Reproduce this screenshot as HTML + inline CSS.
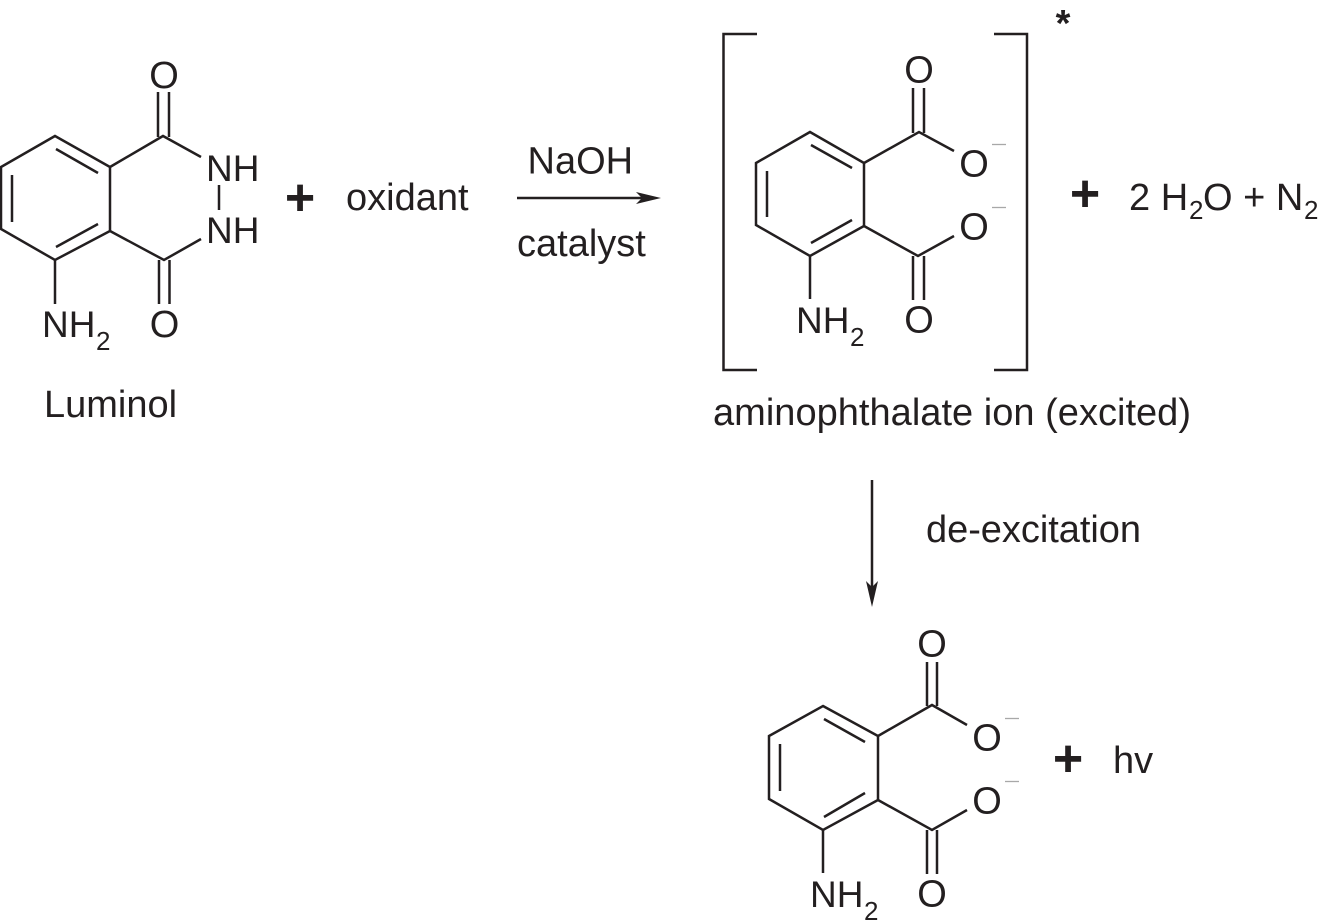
<!DOCTYPE html>
<html>
<head>
<meta charset="utf-8">
<style>
html,body{margin:0;padding:0;background:#fff;width:1322px;height:920px;overflow:hidden}
svg{display:block}
text{font-family:"Liberation Sans",Arial,sans-serif;fill:#231f20;font-size:38px}
.n{font-size:37px}
.s{font-size:26px}
.p{font-size:52px;font-weight:bold}
line,polyline,polygon.o{stroke:#231f20;stroke-width:2.5;fill:none}
.m{stroke:#a8a8a8;stroke-width:1.3}
</style>
</head>
<body>
<svg width="1322" height="920" viewBox="0 0 1322 920" xmlns="http://www.w3.org/2000/svg">
<!-- Luminol -->
<polygon class="o" points="55,136 110,167 110,231 55,260 1,229 1,167"/>
<line x1="56" y1="149" x2="98" y2="173"/><line x1="12" y1="175" x2="12" y2="222"/><line x1="56" y1="247" x2="98" y2="224"/>
<polyline points="110,167 163,136 201,157"/>
<line x1="158" y1="92" x2="158" y2="137"/><line x1="169" y1="92" x2="169" y2="137"/>
<polyline points="110,231 164,260 201,239"/>
<line x1="159" y1="260" x2="159" y2="304"/><line x1="169.500" y1="260" x2="169.500" y2="304"/>
<line x1="219" y1="185" x2="219" y2="210"/>
<line x1="55" y1="260" x2="55" y2="304"/>
<text x="164" y="88" text-anchor="middle">O</text>
<text x="164.500" y="337" text-anchor="middle">O</text>
<text x="206" y="181" class="n">NH</text>
<text x="206" y="243" class="n">NH</text>
<text x="42" y="337" class="n">NH</text><text x="96" y="350" class="s">2</text>
<text x="44" y="417">Luminol</text>
<text x="300" y="215" text-anchor="middle" class="p">+</text>
<text x="346" y="210">oxidant</text>
<!-- Reaction arrow -->
<line x1="517" y1="198" x2="650" y2="198"/>
<polygon points="661,198 636,192 642,198 636,204" fill="#231f20"/>
<text x="527.500" y="173.500">NaOH</text>
<text x="517" y="256">catalyst</text>
<!-- Excited ion -->
<polyline points="757,34 723.500,34 723.500,370 757,370"/>
<polyline points="994,34 1027,34 1027,370 994,370"/>
<text x="1063" y="36" text-anchor="middle" style="font-size:38px;font-weight:bold">*</text>
<polygon class="o" points="810,132 864,163 864,226 810,256 756,225 756,163"/>
<line x1="811" y1="145" x2="852" y2="168"/><line x1="767" y1="171" x2="767" y2="217"/><line x1="811" y1="243" x2="852" y2="220"/>
<polyline points="864,163 919,132 954,151"/>
<line x1="913" y1="88" x2="913" y2="133"/><line x1="924" y1="88" x2="924" y2="133"/>
<polyline points="864,226 918,256 954,236"/>
<line x1="913" y1="256" x2="913" y2="300"/><line x1="924" y1="256" x2="924" y2="300"/>
<line x1="810" y1="256" x2="810" y2="299"/>
<text x="919" y="82.500" text-anchor="middle">O</text>
<text x="974" y="176.500" text-anchor="middle">O</text>
<text x="974" y="239.500" text-anchor="middle">O</text>
<text x="919" y="332.500" text-anchor="middle">O</text>
<text x="796" y="333" class="n">NH</text><text x="850" y="346" class="s">2</text>
<line class="m" x1="992" y1="144.500" x2="1006" y2="144.500"/>
<line class="m" x1="992" y1="207.500" x2="1006" y2="207.500"/>
<text x="1085" y="211" text-anchor="middle" class="p">+</text>
<text x="1129" y="210">2 H</text><text x="1189" y="219" class="s">2</text><text x="1203" y="210">O + N</text><text x="1304" y="219" class="s">2</text>
<text x="713" y="425" textLength="478">aminophthalate ion (excited)</text>
<!-- De-excitation arrow -->
<line x1="872" y1="480" x2="872" y2="595"/>
<polygon points="872,607 866,581 872,587 878,581" fill="#231f20"/>
<text x="926" y="542" textLength="215">de-excitation</text>
<!-- Product -->
<polygon class="o" points="823,706 878,736 878,800 823,830 769,799 769,736"/>
<line x1="824" y1="719" x2="865" y2="742"/><line x1="780" y1="744" x2="780" y2="791"/><line x1="824" y1="817" x2="865" y2="793"/>
<polyline points="878,736 932,705 967,725"/>
<line x1="927" y1="662" x2="927" y2="706"/><line x1="937" y1="662" x2="937" y2="706"/>
<polyline points="878,800 932,830 967,810"/>
<line x1="927" y1="830" x2="927" y2="874"/><line x1="937" y1="830" x2="937" y2="874"/>
<line x1="823" y1="830" x2="823" y2="873"/>
<text x="932" y="656.500" text-anchor="middle">O</text>
<text x="987" y="750.500" text-anchor="middle">O</text>
<text x="987" y="813.500" text-anchor="middle">O</text>
<text x="932" y="906.500" text-anchor="middle">O</text>
<text x="810" y="907" class="n">NH</text><text x="864" y="920" class="s">2</text>
<line class="m" x1="1005" y1="718.500" x2="1019" y2="718.500"/>
<line class="m" x1="1005" y1="781.500" x2="1019" y2="781.500"/>
<text x="1068" y="776" text-anchor="middle" class="p">+</text>
<text x="1113" y="773">hv</text>
</svg>
</body>
</html>
